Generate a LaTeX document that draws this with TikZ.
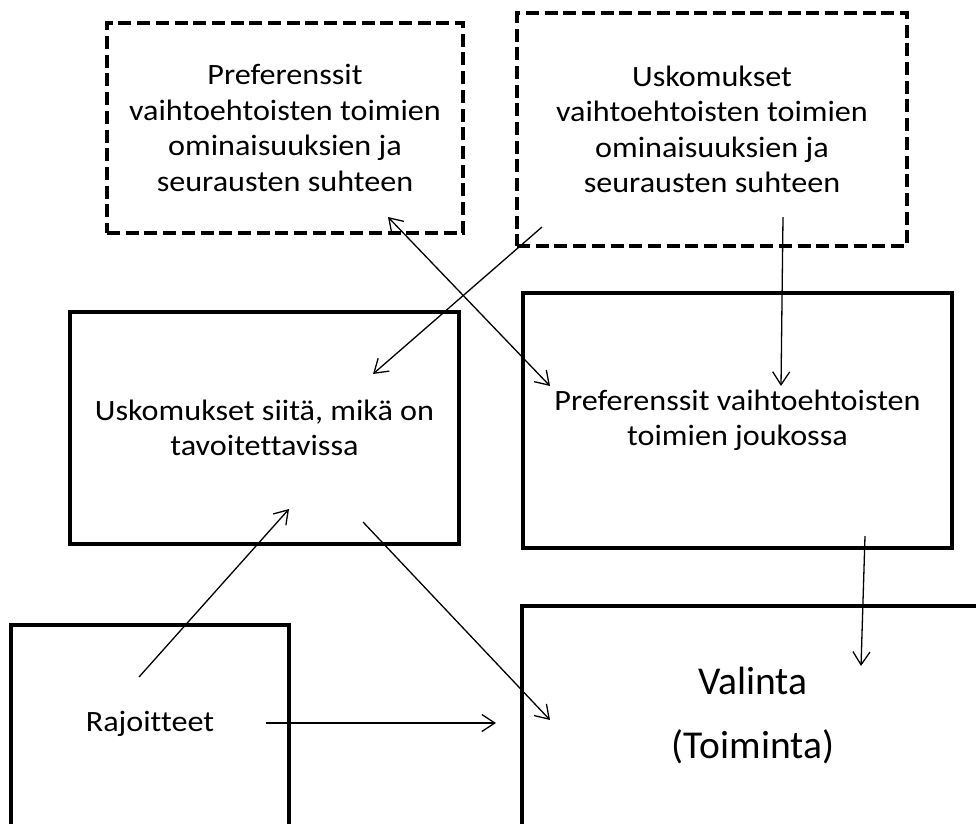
\documentclass[tikz,border=0pt]{standalone}
\usepackage{fontspec}
\setmainfont{Carlito}[FakeStretch=1.09, Ligatures={NoCommon}]
\newfontfamily\bigfont{Carlito}[Ligatures={NoCommon}]
\usetikzlibrary{arrows.meta}
\begin{document}
\begin{tikzpicture}[x=1pt,y=-1pt,
  dbox/.style={draw, line width=4pt, dash pattern=on 13pt off 5.7pt, inner sep=0pt},
  sbox/.style={draw, line width=4.3pt, inner sep=0pt},
  txt/.style={font=\fontsize{29.5}{35.5}\selectfont, align=center},
  bigtxt/.style={font=\bigfont\fontsize{39.5}{64}\selectfont, align=center},
  conn/.style={line width=1.3pt, -{Straight Barb[length=13pt,width=17pt]}},
  dconn/.style={line width=1.3pt, {Straight Barb[length=13pt,width=17pt]}-{Straight Barb[length=13pt,width=17pt]}}]
\useasboundingbox (0,0) rectangle (976,823);
\fill[white] (0,0) rectangle (976,823);
% boxes
\node[dbox, txt, minimum width=356pt, minimum height=210pt] (A) at (285,128)
  {Preferenssit\\vaihtoehtoisten toimien\\ominaisuuksien ja\\seurausten suhteen};
\node[dbox, txt, minimum width=390pt, minimum height=233pt] (B) at (712,129.5)
  {Uskomukset\\vaihtoehtoisten toimien\\ominaisuuksien ja\\seurausten suhteen};
\node[sbox, txt, minimum width=389pt, minimum height=232pt] (C) at (264.5,428)
  {Uskomukset siitä, mikä on\\tavoitettavissa};
\node[sbox, txt, minimum width=429pt, minimum height=255pt] (F) at (737.5,420.5)
  {Preferenssit vaihtoehtoisten\\toimien joukossa};
\node[sbox, minimum width=278pt, minimum height=201pt] (D) at (150,725.5) {};
\node[txt] (Dt) at (150,724) {Rajoitteet};
\node[sbox, bigtxt, minimum width=462pt, minimum height=220pt] (E) at (753,716)
  {Valinta\\(Toiminta)};
% connector end points
\coordinate (a1) at (388,217);
\coordinate (a2) at (550,386);
\coordinate (b1) at (542,227);
\coordinate (b2) at (373,374);
\coordinate (c1) at (783,217);
\coordinate (c2) at (781,386);
\coordinate (d1) at (139,677);
\coordinate (d2) at (289,509);
\coordinate (e1) at (363,522);
\coordinate (e2) at (550,720);
\coordinate (f1) at (266,723);
\coordinate (f2) at (496,723);
\coordinate (g1) at (865,536);
\coordinate (g2) at (861,666);
% connectors
\draw[dconn] (a1) -- (a2);
\draw[conn] (b1) -- (b2);
\draw[conn] (c1) -- (c2);
\draw[conn] (d1) -- (d2);
\draw[conn] (e1) -- (e2);
\draw[conn] (f1) -- (f2);
\draw[conn] (g1) -- (g2);
\end{tikzpicture}
\end{document}
